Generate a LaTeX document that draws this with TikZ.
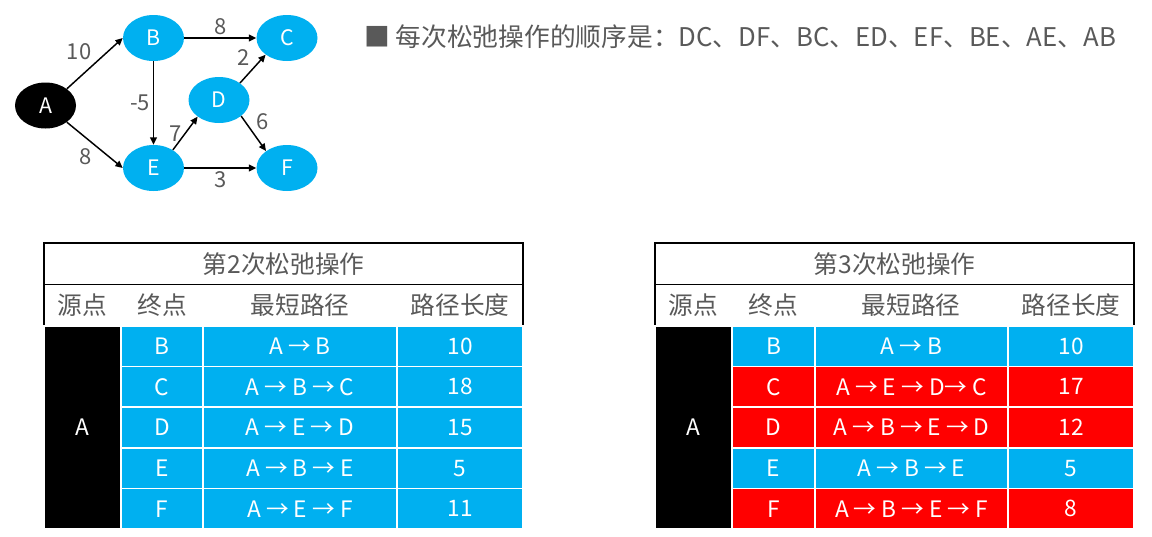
\documentclass[tikz,border=0pt]{standalone}
\usepackage{fontspec}
\setmainfont{Noto Sans CJK SC}
\usetikzlibrary{arrows.meta, positioning, shapes.geometric}
\definecolor{nodeblue}{HTML}{00B0F0}
\definecolor{relaxred}{HTML}{FF0000}
\definecolor{labelgray}{HTML}{595959}

\begin{document}
\begin{tikzpicture}[
  x=0.75pt, y=-0.75pt,
  vtx/.style={ellipse, fill=nodeblue, text=white, minimum width=45.75pt,
              minimum height=34.5pt, inner sep=0pt, font=\fontsize{16}{18}\selectfont},
  src/.style={vtx, fill=black},
  arr/.style={-{Triangle[length=5.5pt, width=5pt]}, line width=1.1pt},
  wt/.style={text=labelgray, font=\fontsize{16.5}{18}\selectfont, inner sep=2pt},
  note/.style={text=labelgray, font=\fontsize{19.3}{21}\selectfont, inner sep=0pt},
  frame/.style={draw=black, line width=1.1pt, minimum width=359.25pt, minimum height=31pt,
                inner sep=0pt, outer sep=0pt, anchor=north west},
  hdr/.style={text=labelgray, font=\fontsize{18.5}{20}\selectfont, inner sep=0pt},
  cell/.style={draw=white, line width=1.1pt, text=white, inner sep=0pt, outer sep=0pt,
               minimum height=30.45pt, font=\fontsize{17}{19}\selectfont}
]
  \useasboundingbox (0,0) rectangle (1152,536);

  % graph
  \node[src] (A) at (45.5,105.5) {A};
  \node[vtx] (B) at (153.5,38) {B};
  \node[vtx] (C) at (287,38) {C};
  \node[vtx] (D) at (219,100) {D};
  \node[vtx] (E) at (153.5,168) {E};
  \node[vtx] (F) at (287,168) {F};

  \draw[arr] (A.38) -- node[wt, above left] (wAB) {10} (B.west);
  \draw[arr] (A.-38) -- node[wt, below left] (wAE) {8} (E.west);
  \draw[arr] (B.east) -- node[wt, above] (wBC) {8} (C.west);
  \draw[arr] (B.south) -- node[wt, left] (wBE) {-5} (E.north);
  \draw[arr] (E.43) -- node[wt, left] (wED) {7} (D.218);
  \draw[arr] (D.39) -- node[wt, above left] (wDC) {2} (C.218);
  \draw[arr] (D.-36) -- node[wt, above right] (wDF) {6} (F.141);
  \draw[arr] (E.east) -- node[wt, below] (wEF) {3} (F.west);

  \node[note, anchor=west] (order) at (364,37) {■ 每次松弛操作的顺序是：DC、DF、BC、ED、EF、BE、AE、AB};

  % table after the 2nd round
  \node[frame] (L-title) at (44,243) {};
  \node[frame, minimum height=31.5pt] (L-head) at (L-title.south west) {};
  \node[hdr] (L-ttl) at (L-title.center) {第2次松弛操作};
  \foreach \x/\h [count=\k] in {82/源点, 162/终点, 300/最短路径, 460/路径长度}
    \node[hdr] (L-h\k) at (\x,305) {\h};
  \node[cell, fill=black, anchor=north west, minimum width=57.75pt,
        minimum height=152.25pt] (L-src) at (44,326) {A};
  \foreach \dst/\route/\dist [count=\r from 0] in
      {B/A → B/10, C/A → B → C/18, D/A → E → D/15, E/A → B → E/5, F/A → E → F/11} {
    \node[cell, fill=nodeblue, anchor=north west, minimum width=61.5pt] (L-d\r) at (121,{326+40.6*\r}) {\dst};
    \node[cell, fill=nodeblue, right=0pt of L-d\r, minimum width=145.5pt] (L-p\r) {\route};
    \node[cell, fill=nodeblue, right=0pt of L-p\r, minimum width=94.5pt] (L-l\r) {\dist};
  }

  % table after the 3rd round
  \node[frame] (R-title) at (655,243) {};
  \node[frame, minimum height=31.5pt] (R-head) at (R-title.south west) {};
  \node[hdr] (R-ttl) at (R-title.center) {第3次松弛操作};
  \foreach \x/\h [count=\k] in {693/源点, 773/终点, 911/最短路径, 1071/路径长度}
    \node[hdr] (R-h\k) at (\x,305) {\h};
  \node[cell, fill=black, anchor=north west, minimum width=57.75pt,
        minimum height=152.25pt] (R-src) at (655,326) {A};
  \foreach \dst/\route/\dist/\col [count=\r from 0] in
      {B/A → B/10/nodeblue, C/A → E → D→ C/17/relaxred, D/A → B → E → D/12/relaxred,
       E/A → B → E/5/nodeblue, F/A → B → E → F/8/relaxred} {
    \node[cell, fill=\col, anchor=north west, minimum width=62.25pt] (R-d\r) at (732,{326+40.6*\r}) {\dst};
    \node[cell, fill=\col, right=0pt of R-d\r, minimum width=144.75pt] (R-p\r) {\route};
    \node[cell, fill=\col, right=0pt of R-p\r, minimum width=94.5pt] (R-l\r) {\dist};
  }
\end{tikzpicture}
\end{document}
